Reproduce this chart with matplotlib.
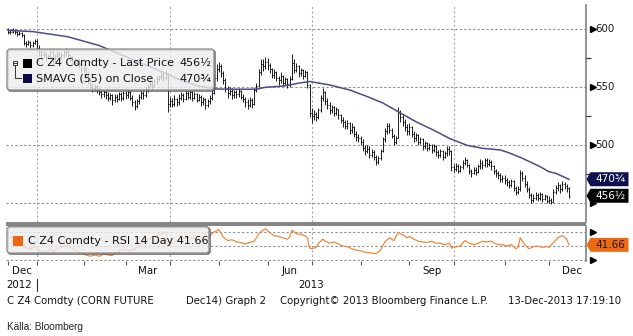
import numpy as np
import pandas as pd
import matplotlib
matplotlib.use("Agg")
import matplotlib.pyplot as plt
import matplotlib.transforms as mtransforms
from matplotlib.patches import FancyBboxPatch, Polygon, Rectangle
from matplotlib.lines import Line2D
from matplotlib.collections import LineCollection

W, H = 633, 336

# ---------------------------------------------------------------- data
holidays = ["2012-12-25", "2013-01-01", "2013-01-21", "2013-02-18", "2013-03-29",
            "2013-05-27", "2013-07-04", "2013-09-02", "2013-11-28"]

close_2012_12 = [598, 597.5, 599, 598, 596, 597, 595, 588, 587, 589, 586, 588, 590]
high_2012_12 = [601, 600, 601, 600.5, 599, 598.5, 598, 596, 590, 591, 590, 590, 592]
low_2012_12 = [596, 595.5, 596.5, 596, 594, 595, 593, 586, 585, 586, 584, 585, 587]

close_2013_01 = [584, 580, 578, 579, 576, 577, 580, 574, 577, 579, 576, 578, 580, 581, 578, 576, 574, 571, 573, 570, 567]
high_2013_01 = [592, 586, 582, 582, 580, 579, 583, 584, 579, 582, 580, 580, 583, 584, 582, 579, 577, 575, 575, 575, 571]
low_2013_01 = [582, 577, 575, 576, 573, 574, 575, 570, 572, 575, 573, 574, 576, 577, 576, 573, 571, 568, 569, 567, 563]

close_2013_02 = [566, 561, 556, 552, 549, 551, 548, 546, 544, 546, 543, 541, 543, 539, 542, 540, 544, 541, 545]
high_2013_02 = [570, 568, 563, 558, 554, 553, 552, 550, 548, 548, 548, 546, 545, 544, 544, 544, 546, 546, 547]
low_2013_02 = [563, 558, 553, 549, 546, 547, 545, 543, 541, 542, 540, 538, 539, 535, 537, 537, 539, 538, 539]

close_2013_03 = [543, 546, 541, 537, 534, 538, 542, 545, 543, 548, 550, 553, 551, 555, 557, 559, 561, 558, 562, 536]
high_2013_03 = [547, 548, 547, 543, 539, 540, 544, 548, 547, 550, 553, 556, 555, 557, 560, 561, 564, 562, 565, 560]
low_2013_03 = [540, 541, 539, 534, 530, 532, 536, 540, 540, 542, 546, 549, 548, 550, 553, 555, 557, 555, 556, 529]

close_2013_04 = [538, 536, 540, 537, 541, 543, 540, 545, 542, 546, 541, 544, 539, 542, 537, 540, 535, 538, 541, 545, 558, 566]
high_2013_04 = [542, 541, 543, 541, 544, 546, 545, 548, 547, 548, 547, 546, 545, 544, 543, 542, 541, 540, 543, 548, 561, 570]
low_2013_04 = [533, 533, 534, 534, 535, 539, 537, 539, 540, 540, 538, 540, 537, 538, 534, 535, 531, 533, 536, 539, 544, 555]

close_2013_05 = [568, 562, 556, 549, 545, 547, 543, 546, 544, 547, 542, 540, 537, 535, 539, 536, 548, 551, 563, 570, 568, 572]
high_2013_05 = [572, 570, 564, 558, 551, 550, 549, 548, 548, 549, 548, 544, 542, 540, 542, 541, 550, 554, 566, 574, 574, 576]
low_2013_05 = [563, 559, 553, 546, 541, 543, 540, 541, 541, 542, 540, 537, 533, 531, 533, 532, 535, 546, 550, 561, 564, 566]

close_2013_06 = [569, 566, 561, 563, 558, 556, 560, 554, 557, 552, 557, 571, 565, 568, 562, 565, 560, 563, 552, 528]
high_2013_06 = [575, 571, 567, 566, 564, 560, 563, 561, 559, 558, 560, 579, 574, 571, 569, 567, 566, 565, 564, 553]
low_2013_06 = [565, 562, 558, 558, 555, 552, 554, 551, 552, 549, 550, 556, 562, 563, 559, 560, 557, 559, 549, 524]

close_2013_07 = [525, 527, 524, 530, 541, 546, 538, 535, 530, 533, 528, 531, 526, 522, 520, 517, 519, 513, 516, 510, 507, 506]
high_2013_07 = [532, 530, 529, 532, 543, 549, 547, 541, 537, 535, 534, 533, 531, 527, 524, 522, 522, 520, 519, 517, 512, 510]
low_2013_07 = [519, 522, 521, 523, 529, 538, 535, 531, 527, 528, 525, 526, 523, 519, 516, 514, 514, 510, 511, 507, 504, 503]

close_2013_08 = [503, 498, 495, 497, 492, 494, 490, 486, 489, 495, 505, 512, 517, 513, 508, 503, 506, 528, 524, 520, 516, 512]
high_2013_08 = [508, 505, 500, 500, 499, 497, 496, 492, 491, 497, 507, 515, 519, 519, 515, 510, 508, 533, 530, 526, 523, 518]
low_2013_08 = [500, 495, 492, 493, 489, 490, 487, 483, 484, 487, 494, 503, 510, 511, 506, 500, 501, 506, 520, 517, 512, 509]

close_2013_09 = [516, 510, 506, 509, 503, 505, 499, 502, 498, 500, 496, 499, 494, 492, 495, 490, 493, 497, 495, 481]
high_2013_09 = [519, 517, 512, 511, 510, 507, 506, 504, 503, 502, 501, 501, 500, 496, 497, 496, 495, 499, 499, 496]
low_2013_09 = [509, 507, 503, 504, 500, 501, 496, 497, 495, 496, 493, 494, 491, 489, 490, 487, 489, 491, 492, 478]

close_2013_10 = [480, 482, 478, 481, 485, 487, 483, 478, 476, 479, 477, 482, 485, 483, 487, 484, 486, 482, 478, 476, 474, 471, 472]
high_2013_10 = [484, 485, 484, 483, 487, 490, 488, 484, 480, 481, 481, 484, 488, 487, 489, 489, 488, 487, 483, 480, 478, 476, 474]
low_2013_10 = [477, 478, 476, 477, 480, 483, 481, 475, 473, 475, 474, 476, 480, 480, 481, 481, 482, 479, 475, 473, 471, 468, 468]

close_2013_11 = [470, 468, 466, 469, 463, 460, 462, 476, 472, 467, 462, 457, 453, 455, 457, 455, 458, 454, 456, 452]
high_2013_11 = [474, 472, 470, 471, 470, 465, 465, 479, 478, 474, 469, 464, 459, 458, 460, 459, 460, 459, 458, 457]
low_2013_11 = [467, 465, 463, 464, 461, 457, 458, 461, 469, 464, 460, 455, 450, 451, 453, 452, 453, 451, 453, 450]

close_2013_12 = [453, 451, 460, 463, 466, 462, 467, 465, 463, 456.5]
high_2013_12 = [456, 455, 462, 466, 468, 467, 469, 468, 467, 464]
low_2013_12 = [450, 449, 451, 458, 461, 459, 461, 462, 460, 455]

prior_close = 600

# 55-day simple moving average of the close
ma_dates = ["2012-12-12", "2012-12-28", "2013-01-23", "2013-02-12", "2013-03-06", "2013-03-27",
            "2013-04-08", "2013-04-18", "2013-04-30", "2013-05-09", "2013-05-24", "2013-05-31",
            "2013-06-12", "2013-06-21", "2013-06-28", "2013-07-12", "2013-07-25", "2013-08-06",
            "2013-08-15", "2013-08-27", "2013-09-06", "2013-09-18", "2013-09-27", "2013-10-09",
            "2013-10-18", "2013-10-30", "2013-11-05", "2013-11-13", "2013-11-25", "2013-12-02",
            "2013-12-05", "2013-12-13"]
ma_values = [599, 598, 593.5, 586, 574, 562, 556, 551, 548.5, 548.3, 548.3, 550,
             551, 553.5, 555, 552, 547.7, 542, 536.5, 527.8, 520.3, 513, 506, 500,
             497.4, 496, 493.5, 488.8, 481.6, 477.2, 475.9, 470.75]

# 14-day RSI
rsi_dates = ["2012-12-12", "2012-12-14", "2012-12-18", "2012-12-20", "2012-12-21", "2012-12-26",
             "2012-12-27", "2012-12-31", "2013-01-02", "2013-01-04", "2013-01-08", "2013-01-10",
             "2013-01-11", "2013-01-15", "2013-01-18", "2013-01-22", "2013-01-24", "2013-01-28",
             "2013-01-31", "2013-02-04", "2013-02-06", "2013-02-08", "2013-02-12", "2013-02-14",
             "2013-02-19", "2013-02-21", "2013-02-22", "2013-02-26", "2013-02-28", "2013-03-05",
             "2013-03-08", "2013-03-12", "2013-03-15", "2013-03-19", "2013-03-21", "2013-03-25",
             "2013-03-26", "2013-03-27", "2013-03-28", "2013-04-02", "2013-04-04", "2013-04-08",
             "2013-04-10", "2013-04-12", "2013-04-16", "2013-04-18", "2013-04-22", "2013-04-24",
             "2013-04-25", "2013-04-26", "2013-04-29", "2013-04-30", "2013-05-01", "2013-05-03",
             "2013-05-07", "2013-05-09", "2013-05-13", "2013-05-15", "2013-05-17", "2013-05-21",
             "2013-05-23", "2013-05-24", "2013-05-28", "2013-05-29", "2013-05-31", "2013-06-04",
             "2013-06-06", "2013-06-10", "2013-06-12", "2013-06-14", "2013-06-17", "2013-06-18",
             "2013-06-20", "2013-06-24", "2013-06-26", "2013-06-27", "2013-06-28", "2013-07-01",
             "2013-07-03", "2013-07-05", "2013-07-09", "2013-07-10", "2013-07-12", "2013-07-16",
             "2013-07-18", "2013-07-22", "2013-07-24", "2013-07-26", "2013-07-30", "2013-08-01",
             "2013-08-05", "2013-08-07", "2013-08-12", "2013-08-14", "2013-08-16", "2013-08-20",
             "2013-08-22", "2013-08-26", "2013-08-28", "2013-08-30", "2013-09-03", "2013-09-05",
             "2013-09-09", "2013-09-11", "2013-09-13", "2013-09-17", "2013-09-19", "2013-09-23",
             "2013-09-25", "2013-09-27", "2013-09-30", "2013-10-02", "2013-10-04", "2013-10-08",
             "2013-10-10", "2013-10-14", "2013-10-16", "2013-10-18", "2013-10-22", "2013-10-24",
             "2013-10-28", "2013-10-30", "2013-10-31", "2013-11-04", "2013-11-06", "2013-11-08",
             "2013-11-11", "2013-11-12", "2013-11-13", "2013-11-14", "2013-11-18", "2013-11-20",
             "2013-11-22", "2013-11-26", "2013-11-29", "2013-12-02", "2013-12-04", "2013-12-06",
             "2013-12-09", "2013-12-10", "2013-12-11", "2013-12-12", "2013-12-13"]
rsi_values = [52, 54, 49, 47, 38, 37,
              35, 40, 36, 32, 30, 36,
              31, 36, 40, 42, 38, 34,
              30, 27, 25, 27, 25, 28,
              27, 26, 30, 32, 35, 33,
              37, 44, 49, 53, 55, 58,
              59, 61, 42, 45, 47, 50,
              52, 53, 50, 49, 48, 50,
              55, 58, 61, 62, 64, 53,
              48, 49, 46, 45, 43, 45,
              47, 52, 57, 61, 65, 60,
              55, 54, 52, 50, 53, 63,
              58, 57, 55, 52, 37, 36,
              38, 44, 50, 47, 44, 46,
              43, 40, 39, 36, 34, 33,
              31, 30, 29, 34, 46, 52,
              48, 60, 56, 52, 54, 50,
              47, 46, 45, 47, 44, 44,
              42, 44, 37, 39, 40, 48,
              44, 42, 44, 47, 46, 47,
              43, 42, 42, 40, 42, 36,
              38, 52, 47, 42, 36, 39,
              40, 38, 39, 38, 45, 52,
              54, 55, 53, 50, 41.66]

price_levels = [600, 550, 500, 450]
price_labels = ["600", "550", "500"]  # the 450 label sits under the value tags
price_minor = [575, 525, 475]
rsi_levels = [60, 40, 20]
month_names = ["Jan", "Feb", "Mar", "Apr", "May", "Jun", "Jul", "Aug", "Sep", "Oct", "Nov", "Dec"]
labelled_months = ["Dec", "Mar", "Jun", "Sep"]

# ---------------------------------------------------------------- series
dates = pd.bdate_range("2012-12-12", "2013-12-13")
dates = dates[~dates.isin(pd.to_datetime(holidays))]

close = np.array(close_2012_12 + close_2013_01 + close_2013_02 + close_2013_03 + close_2013_04
                 + close_2013_05 + close_2013_06 + close_2013_07 + close_2013_08 + close_2013_09
                 + close_2013_10 + close_2013_11 + close_2013_12, dtype=float)
high = np.array(high_2012_12 + high_2013_01 + high_2013_02 + high_2013_03 + high_2013_04
                + high_2013_05 + high_2013_06 + high_2013_07 + high_2013_08 + high_2013_09
                + high_2013_10 + high_2013_11 + high_2013_12, dtype=float)
low = np.array(low_2012_12 + low_2013_01 + low_2013_02 + low_2013_03 + low_2013_04
               + low_2013_05 + low_2013_06 + low_2013_07 + low_2013_08 + low_2013_09
               + low_2013_10 + low_2013_11 + low_2013_12, dtype=float)
assert len(close) == len(dates) == len(high) == len(low)
openp = np.concatenate([[prior_close], close[:-1]])
idx = np.arange(len(dates))

ma_idx = dates.get_indexer(pd.to_datetime(ma_dates))
rsi_idx = dates.get_indexer(pd.to_datetime(rsi_dates))
assert (ma_idx >= 0).all() and (rsi_idx >= 0).all()

# first trading day of each month
month_key = dates.year * 12 + dates.month
month_start = np.where(np.diff(np.concatenate([[0], month_key])) != 0)[0]
month_label = [month_names[dates[i].month - 1] for i in month_start]

# ---------------------------------------------------------------- figure
fig = plt.figure(figsize=(W / 100, H / 100), dpi=100)
fig.patch.set_facecolor("white")
PX = mtransforms.IdentityTransform()
FONT = "DejaVu Sans"

XMIN, XMAX = -1.0, 260.7
ax = fig.add_axes([6 / W, 1 - 222 / H, 580 / W, 217 / H])
ax2 = fig.add_axes([6 / W, 1 - 261 / H, 580 / W, 35 / H])
ax.set_xlim(XMIN, XMAX)
ax.set_ylim(433.9, 620.9)
ax2.set_xlim(XMIN, XMAX)
ax2.set_ylim(18.1, 69.2)

for a in (ax, ax2):
    a.set_facecolor("none")
    for s in ("top", "left", "bottom"):
        a.spines[s].set_visible(False)
    a.spines["right"].set_color("#808080")
    a.spines["right"].set_linewidth(1.2)
    a.set_yticks([])
ax.set_xticks([])

grid_kw = dict(color="#8c8c8c", linewidth=0.8, linestyle=(0, (2, 2)), zorder=1)
quarter_starts = [i for i in month_start if dates[i].month in (1, 4, 7, 10)]
for v in price_levels:
    ax.axhline(v, **grid_kw)
for v in rsi_levels:
    ax2.axhline(v, **grid_kw)
for q in quarter_starts:
    ax.axvline(q, color="#a8a8a8", linewidth=0.8, linestyle=(0, (2, 2)), zorder=1)
    ax2.axvline(q, color="#a8a8a8", linewidth=0.8, linestyle=(0, (2, 2)), zorder=1)

# OHLC bars
hw = 0.45
segs = []
for i in idx:
    lo = min(low[i], openp[i], close[i])
    hi = max(high[i], openp[i], close[i])
    segs.append([(i, lo), (i, hi)])
    segs.append([(i - hw, openp[i]), (i, openp[i])])
    segs.append([(i, close[i]), (i + hw, close[i])])
ax.add_collection(LineCollection(segs, colors="black", linewidths=0.62, zorder=3))

# moving average
ax.plot(ma_idx, ma_values, color="#4c4c86", linewidth=1.1, zorder=4)

# RSI
ax2.plot(rsi_idx, rsi_values, color="#f0883c", linewidth=0.9, zorder=3)

# right-hand price scale
yax = ax.get_yaxis_transform()
ax.plot([1.012] * len(price_levels), price_levels, transform=yax, clip_on=False,
        linestyle="none", marker=">", markersize=4.2, color="black")
ax.plot([1.0035] * len(price_minor), price_minor, transform=yax, clip_on=False,
        linestyle="none", marker="_", markersize=4.5, markeredgewidth=0.9, color="#333333")
for lab in price_labels:
    ax.text(1.0155, float(lab), lab, transform=yax, ha="left", va="center",
            fontsize=7.4, family=FONT, color="#1a1a1a")

yax2 = ax2.get_yaxis_transform()
ax2.plot([1.012] * len(rsi_levels), rsi_levels, transform=yax2, clip_on=False,
         linestyle="none", marker=">", markersize=4.2, color="black")

# month ticks under the RSI panel
ax2.set_xticks(month_start)
ax2.tick_params(axis="x", direction="out", length=3.2, width=0.8, color="#555555",
                labelbottom=False)


def to_px(a, x, y):
    return a.transData.transform((x, y))


# separator between the panels
fig.add_artist(Rectangle((6, H - 226), 580, 3.6, transform=PX, facecolor="#858585",
                         edgecolor="none", zorder=6))


def value_tag(a, value, text, face, txtcolor):
    ypx = to_px(a, 0, value)[1]
    x0 = 586.5
    poly = Polygon([(x0, ypx), (x0 + 4, ypx + 7), (x0 + 42, ypx + 7),
                    (x0 + 42, ypx - 7), (x0 + 4, ypx - 7)], closed=True,
                   transform=PX, facecolor=face, edgecolor="none", zorder=8)
    fig.add_artist(poly)
    fig.text(x0 + 23.5, ypx, text, transform=PX, ha="center", va="center",
             fontsize=7.6, family=FONT, color=txtcolor, zorder=9)


last_close = close[-1]
value_tag(ax, ma_values[-1], "470¾", "#10104e", "white")
value_tag(ax, last_close, "456½", "#050505", "white")
value_tag(ax2, rsi_values[-1], f"{rsi_values[-1]:.2f}", "#ee6a12", "#1a1a1a")


# legends
def legend_box(x0, y0, x1, y1):
    fig.add_artist(FancyBboxPatch((x0 + 1, H - y1 - 1), x1 - x0, y1 - y0,
                                  boxstyle="round,pad=0,rounding_size=3", transform=PX,
                                  facecolor="none", edgecolor="#5a5a5a", linewidth=1.0,
                                  zorder=6))
    fig.add_artist(FancyBboxPatch((x0, H - y1), x1 - x0, y1 - y0,
                                  boxstyle="round,pad=0,rounding_size=3", transform=PX,
                                  facecolor=(0.93, 0.93, 0.93, 0.80), edgecolor="#8a8a8a",
                                  linewidth=0.9, zorder=6))


legend_box(7, 49, 214, 90)
# collapse icon
fig.add_artist(Rectangle((12.8, H - 65.3), 4.6, 4.6, transform=PX, facecolor="white",
                         edgecolor="#333333", linewidth=0.7, zorder=7))
fig.add_artist(Line2D([13.8, 16.4], [H - 63, H - 63], transform=PX, color="#333333",
                      linewidth=0.7, zorder=7))
fig.add_artist(Line2D([15.1, 15.1, 21], [H - 65.3, H - 77.5, H - 77.5], transform=PX,
                      color="#333333", linewidth=0.7, zorder=7))
fig.add_artist(Rectangle((23, H - 67.5), 9, 9, transform=PX, facecolor="black",
                         edgecolor="none", zorder=7))
fig.add_artist(Rectangle((23, H - 83), 9, 9, transform=PX, facecolor="#0a0a48",
                         edgecolor="none", zorder=7))
leg_kw = dict(transform=PX, va="center", ha="left", fontsize=8, family=FONT,
              color="#111111", zorder=7)
fig.text(36, H - 63.3, "C Z4 Comdty - Last Price", **leg_kw)
fig.text(179, H - 63.3, "456½", **leg_kw)
fig.text(36, H - 78.6, "SMAVG (55) on Close", **leg_kw)
fig.text(179, H - 78.6, "470¾", **leg_kw)

legend_box(7, 226.5, 209, 253)
fig.add_artist(Rectangle((13, H - 245.5), 10, 10, transform=PX, facecolor="#f0650f",
                         edgecolor="none", zorder=7))
fig.text(28, H - 241.5, f"C Z4 Comdty - RSI 14 Day {rsi_values[-1]:.2f}", **leg_kw)

# month and year labels
bounds = list(month_start) + [month_start[-1] + 21]
for k, i in enumerate(month_start):
    name = month_label[k]
    if name not in labelled_months:
        continue
    left = XMIN if k == 0 else i
    mid = 0.5 * (left + bounds[k + 1])
    xpx = to_px(ax2, mid, 0)[0]
    fig.text(xpx, H - 271.5, name, transform=PX, ha="center", va="center",
             fontsize=7.4, family=FONT, color="#111111")

jan = [i for i in month_start if dates[i].month == 1][0]
xjan = to_px(ax2, jan, 0)[0]
xl = to_px(ax2, XMIN, 0)[0]
xr = to_px(ax2, XMAX, 0)[0]
fig.text(0.5 * (xl + xjan) - 2.5, H - 285.5, "2012", transform=PX, ha="center", va="center",
         fontsize=7.4, family=FONT, color="#111111")
fig.text(0.5 * (xjan + xr), H - 285.5, "2013", transform=PX, ha="center", va="center",
         fontsize=7.4, family=FONT, color="#111111")
fig.add_artist(Line2D([xjan, xjan], [H - 279, H - 291], transform=PX, color="#333333",
                      linewidth=0.8))

# footer
foot_kw = dict(transform=PX, va="center", ha="left", fontsize=7.3, family=FONT,
               color="#111111")
fig.text(7, H - 301, "C Z4 Comdty (CORN FUTURE", **foot_kw)
fig.text(186, H - 301, "Dec14) Graph 2", **foot_kw)
fig.text(280, H - 301, "Copyright© 2013 Bloomberg Finance L.P.", **foot_kw)
fig.text(508, H - 301, "13-Dec-2013 17:19:10", **foot_kw)
fig.text(7, H - 327, "Källa: Bloomberg", transform=PX, va="center", ha="left",
         fontsize=7.2, family="Liberation Sans", color="#222222")

fig.savefig("out.png", dpi=100, facecolor="white")
